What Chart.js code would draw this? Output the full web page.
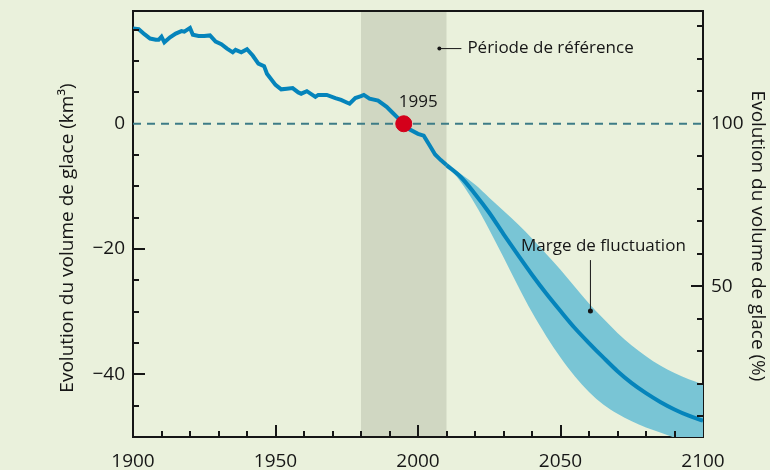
<!DOCTYPE html>
<html>
<head>
<meta charset="utf-8">
<script src="https://cdn.jsdelivr.net/npm/chart.js@4.4.1/dist/chart.umd.min.js"></script>
<style>
html, body { margin: 0; padding: 0; background: #eaf1dc; }
#cadre { width: 770px; height: 470px; }
</style>
</head>
<body>
<div id="cadre"><canvas id="graphique" width="770" height="470"></canvas></div>
<script>
// volume mesuré (km3, écart à 1995)
const anneesMesure = [1900, 1902, 1904, 1906, 1908, 1909, 1910, 1911, 1913, 1915, 1917, 1918, 1920, 1921, 1923,
    1925, 1927, 1929, 1931, 1933, 1935, 1936, 1938, 1940, 1942, 1944, 1946, 1947, 1950, 1952, 1954, 1956,
    1958, 1959, 1961, 1964, 1965, 1968, 1971, 1973, 1975, 1976, 1978, 1980, 1981, 1983, 1986, 1989, 1991,
    1993, 1995, 1997, 2000, 2002, 2004, 2006, 2008, 2010];
const volumeMesure = [15.2, 15.1, 14.3, 13.6, 13.4, 13.4, 13.9, 13.0, 13.8, 14.4, 14.8, 14.7, 15.3, 14.2, 14.0,
    14.0, 14.1, 13.1, 12.7, 12.0, 11.4, 11.8, 11.4, 11.9, 10.9, 9.6, 9.2, 8.0, 6.2, 5.5, 5.6, 5.7,
    5.0, 4.8, 5.2, 4.3, 4.6, 4.6, 4.1, 3.8, 3.4, 3.2, 4.1, 4.4, 4.6, 4.0, 3.7, 2.7, 1.8,
    0.9, 0, -0.9, -1.6, -1.9, -3.4, -4.9, -5.8, -6.6];

// projection
const anneesProjection = [2010, 2015, 2020, 2025, 2030, 2035, 2040, 2045, 2050, 2055, 2060, 2065, 2070,
    2075, 2080, 2085, 2090, 2095, 2100];
const projectionMoyenne = [-6.6, -8.5, -11.2, -14.2, -17.6, -20.9, -24.1, -27.1, -29.9, -32.6, -35.0, -37.3,
    -39.5, -41.4, -43.0, -44.4, -45.6, -46.6, -47.4];
const projectionHaute = [-6.6, -8.0, -9.7, -11.8, -13.9, -16.0, -18.3, -20.8, -23.3, -26.0, -28.7, -31.1,
    -33.4, -35.4, -37.1, -38.6, -39.8, -40.8, -41.6];
const projectionBasse = [-6.6, -9.3, -12.8, -16.9, -21.3, -25.8, -30.1, -33.9, -37.3, -40.3, -42.8, -44.8,
    -46.3, -47.5, -48.5, -49.3, -50.1, -50.8, -51.4];

const periodeReference = [1980, 2010];
const anneeReference = 1995;
const valeurReference = 0;

const etiquettesX = [1900, 1950, 2000, 2050, 2100];
const etiquettesGauche = [-40, -20, 0];
const etiquettesDroite = [50, 100];

const police = "'Open Sans', 'DejaVu Sans', sans-serif";
const noir = '#161616';

function points(xs, ys) {
    return xs.map((x, i) => ({ x: x, y: ys[i] }));
}

function signe(v) {
    return v < 0 ? '\u2212' + Math.abs(v) : String(v);
}

function trait(ctx, x1, y1, x2, y2) {
    ctx.beginPath();
    ctx.moveTo(x1, y1);
    ctx.lineTo(x2, y2);
    ctx.stroke();
}

function sansMarges(s) {
    s.paddingTop = 0;
    s.paddingBottom = 0;
    s.paddingLeft = 0;
    s.paddingRight = 0;
}

const decor = {
    id: 'decor',
    beforeDraw(chart) {
        const { ctx, chartArea, scales } = chart;
        const x1 = scales.x.getPixelForValue(periodeReference[0]);
        const x2 = scales.x.getPixelForValue(periodeReference[1]);
        ctx.save();
        ctx.fillStyle = '#d0d7c2';
        ctx.fillRect(x1, chartArea.top, x2 - x1, chartArea.bottom - chartArea.top);
        ctx.restore();
    },
    afterDatasetsDraw(chart) {
        const { ctx, chartArea, scales } = chart;
        const g = Math.round(chartArea.left);
        const d = Math.round(chartArea.right);
        const b = Math.round(chartArea.bottom);
        const h = Math.round(chartArea.top);
        ctx.save();
        ctx.fillStyle = noir;
        // graduations vers l'intérieur
        for (let a = 1910; a < 2100; a += 10) {
            const gx = Math.round(scales.x.getPixelForValue(a));
            const lg = a % 50 === 0 ? 12 : 6;
            ctx.fillRect(gx - 1, b - lg, 2, lg);
        }
        for (let v = -45; v <= 15; v += 5) {
            if (v === valeurReference) continue;
            const gy = Math.round(scales.y.getPixelForValue(v));
            const lg = v % 20 === 0 ? 12 : 6;
            ctx.fillRect(g, gy - 1, lg, 2);
        }
        for (let v = 10; v <= 130; v += 10) {
            if (v === 100) continue;
            const gy = Math.round(scales.y2.getPixelForValue(v));
            const lg = v % 50 === 0 ? 12 : 6;
            ctx.fillRect(d - lg, gy - 1, lg, 2);
        }
        ctx.fillRect(g - 1, h - 1, d - g + 2, 2);

        ctx.strokeStyle = noir;
        ctx.lineWidth = 1;
        ctx.font = '17px ' + police;
        ctx.textBaseline = 'middle';

        // 1995
        const rx = scales.x.getPixelForValue(anneeReference);
        const ry = scales.y.getPixelForValue(valeurReference);
        ctx.textAlign = 'left';
        ctx.fillText(String(anneeReference), rx - 5, ry - 22);

        // Période de référence
        const px = scales.x.getPixelForValue(2007.5);
        const py = scales.y.getPixelForValue(12);
        ctx.beginPath();
        ctx.arc(px, py, 2, 0, Math.PI * 2);
        ctx.fill();
        trait(ctx, px, py, px + 22, py);
        ctx.fillText('Période de référence', px + 28, py);

        // Marge de fluctuation
        const mx = scales.x.getPixelForValue(2060.5);
        const my = scales.y.getPixelForValue(-29.9);
        ctx.beginPath();
        ctx.arc(mx, my, 2.5, 0, Math.PI * 2);
        ctx.fill();
        trait(ctx, mx, my, mx, my - 51);
        ctx.textAlign = 'center';
        ctx.fillText('Marge de fluctuation', mx + 13, my - 65);
        ctx.restore();
    },
    afterDraw(chart) {
        const { ctx } = chart;
        ctx.save();
        ctx.fillStyle = noir;
        ctx.font = '19px ' + police;
        ctx.textAlign = 'center';
        ctx.textBaseline = 'middle';
        ctx.translate(68, 238);
        ctx.rotate(-Math.PI / 2);
        ctx.fillText('Evolution du volume de glace (km\u00b3)', 0, 0);
        ctx.restore();
        ctx.save();
        ctx.fillStyle = noir;
        ctx.font = '19px ' + police;
        ctx.textAlign = 'center';
        ctx.textBaseline = 'middle';
        ctx.translate(757, 236);
        ctx.rotate(Math.PI / 2);
        ctx.fillText('Evolution du volume de glace (%)', 0, 0);
        ctx.restore();
    }
};

const ctx = document.getElementById('graphique').getContext('2d');
new Chart(ctx, {
    type: 'line',
    data: {
        datasets: [
            {
                type: 'scatter',
                data: [{ x: anneeReference, y: valeurReference }],
                backgroundColor: '#d4001a',
                borderColor: '#d4001a',
                pointRadius: 8,
                order: 0
            },
            {
                data: points(anneesProjection, projectionMoyenne),
                borderColor: '#0584bb',
                borderWidth: 4,
                pointRadius: 0,
                cubicInterpolationMode: 'monotone',
                fill: false,
                order: 1
            },
            {
                data: points(anneesMesure, volumeMesure),
                borderColor: '#0584bb',
                borderWidth: 4,
                pointRadius: 0,
                tension: 0,
                fill: false,
                order: 1
            },
            {
                data: [{ x: 1900, y: 0 }, { x: 2100, y: 0 }],
                borderColor: '#3d7c86',
                borderWidth: 2,
                borderDash: [8, 6],
                pointRadius: 0,
                fill: false,
                order: 2
            },
            {
                data: points(anneesProjection, projectionHaute),
                borderWidth: 0,
                borderColor: 'rgba(0,0,0,0)',
                backgroundColor: '#79c5d5',
                pointRadius: 0,
                cubicInterpolationMode: 'monotone',
                fill: '+1',
                order: 3
            },
            {
                data: points(anneesProjection, projectionBasse),
                borderWidth: 0,
                borderColor: 'rgba(0,0,0,0)',
                pointRadius: 0,
                cubicInterpolationMode: 'monotone',
                fill: false,
                order: 4
            }
        ]
    },
    options: {
        responsive: false,
        animation: false,
        devicePixelRatio: 1,
        layout: { padding: { top: 11, left: 0, right: 0, bottom: 0 } },
        plugins: {
            legend: { display: false },
            tooltip: { enabled: false }
        },
        scales: {
            x: {
                type: 'linear',
                position: 'bottom',
                min: 1900,
                max: 2100,
                afterBuildTicks: (s) => { s.ticks = etiquettesX.map(v => ({ value: v })); },
                afterFit: (s) => { s.height = 33; sansMarges(s); },
                grid: { display: true, drawOnChartArea: false, drawTicks: false },
                border: { display: true, color: noir, width: 2 },
                ticks: {
                    autoSkip: false,
                    maxRotation: 0,
                    padding: 13,
                    color: noir,
                    font: { family: police, size: 19 },
                    callback: (v) => String(v)
                }
            },
            y: {
                type: 'linear',
                position: 'left',
                min: -50,
                max: 18,
                afterBuildTicks: (s) => { s.ticks = etiquettesGauche.map(v => ({ value: v })); },
                afterFit: (s) => { s.width = 133; sansMarges(s); },
                grid: { display: true, drawOnChartArea: false, drawTicks: false },
                border: { display: true, color: noir, width: 2 },
                ticks: {
                    padding: 8,
                    color: noir,
                    font: { family: police, size: 19 },
                    callback: (v) => signe(v)
                }
            },
            y2: {
                type: 'linear',
                position: 'right',
                min: 3.57,
                max: 134.71,
                afterBuildTicks: (s) => { s.ticks = etiquettesDroite.map(v => ({ value: v })); },
                afterFit: (s) => { s.width = 67; sansMarges(s); },
                grid: { display: true, drawOnChartArea: false, drawTicks: false },
                border: { display: true, color: noir, width: 2 },
                ticks: {
                    padding: 8,
                    color: noir,
                    font: { family: police, size: 19 },
                    callback: (v) => String(v)
                }
            }
        }
    },
    plugins: [decor]
});
</script>
</body>
</html>
